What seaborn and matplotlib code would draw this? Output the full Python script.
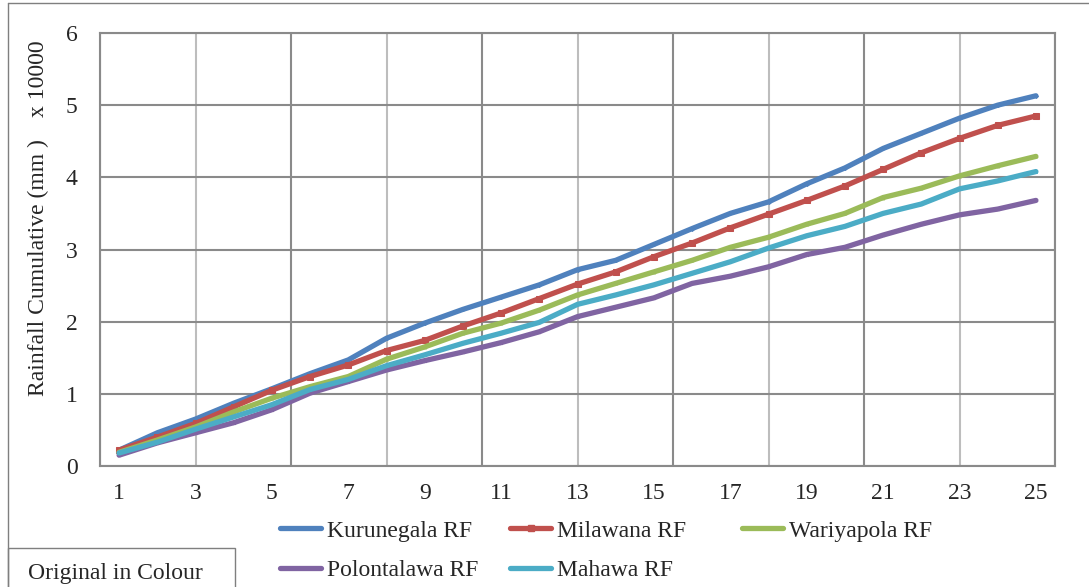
"""
Cumulative rainfall of five stations (Kurunegala area), Excel-style line chart
"""
import numpy as np
import pandas as pd
import matplotlib
matplotlib.use("Agg")
import matplotlib.pyplot as plt
import seaborn as sns
from matplotlib.lines import Line2D
from matplotlib.patches import Rectangle

# Data (cumulative rainfall, units of 10000 mm)
years = list(range(1, 26))
kurunegala = [0.22, 0.46, 0.65, 0.87, 1.07, 1.28, 1.47, 1.77, 1.98, 2.17, 2.34, 2.51, 2.72,
              2.85, 3.07, 3.29, 3.50, 3.66, 3.91, 4.13, 4.40, 4.61, 4.82, 5.00, 5.13]
milawana = [0.22, 0.40, 0.59, 0.82, 1.05, 1.24, 1.40, 1.60, 1.74, 1.94, 2.12, 2.32, 2.52,
            2.69, 2.90, 3.09, 3.30, 3.49, 3.68, 3.88, 4.11, 4.34, 4.54, 4.72, 4.85]
wariyapola = [0.19, 0.36, 0.54, 0.75, 0.94, 1.10, 1.24, 1.48, 1.65, 1.84, 1.98, 2.16, 2.37,
              2.53, 2.69, 2.85, 3.03, 3.17, 3.35, 3.50, 3.72, 3.85, 4.02, 4.16, 4.29]
polontalawa = [0.15, 0.32, 0.46, 0.60, 0.78, 1.01, 1.17, 1.33, 1.46, 1.58, 1.71, 1.86, 2.07,
               2.20, 2.33, 2.53, 2.63, 2.76, 2.93, 3.03, 3.20, 3.35, 3.48, 3.56, 3.68]
mahawa = [0.18, 0.33, 0.51, 0.68, 0.85, 1.06, 1.20, 1.39, 1.54, 1.70, 1.84, 1.99, 2.24,
          2.37, 2.51, 2.67, 2.83, 3.02, 3.19, 3.32, 3.50, 3.63, 3.84, 3.95, 4.08]

stations = ["Kurunegala RF", "Milawana RF", "Wariyapola RF", "Polontalawa RF", "Mahawa RF"]
series = [kurunegala, milawana, wariyapola, polontalawa, mahawa]
colors = ["#4F81BD", "#C0504D", "#9BBB59", "#8064A2", "#4BACC6"]
markers = ["D", "s", "^", "x", "*"]
msizes = [2, 4, 2, 2, 2]

df = pd.concat([pd.DataFrame({"year": years, "rain": s, "station": n})
                for n, s in zip(stations, series)], ignore_index=True)

sns.set_style("white")
plt.rcParams["font.family"] = ["Liberation Serif", "DejaVu Serif"]
plt.rcParams["font.size"] = 17

fig = plt.figure(figsize=(10.89, 5.87), dpi=100)
ax = fig.add_axes([100 / 1089, 1 - 466 / 587, 955 / 1089, 433 / 587])

GRID_DARK = "#8A8A8A"
GRID_LIGHT = "#BDBDBD"

handles = {}
for name, col, mk, ms in zip(stations, colors, markers, msizes):
    sub = df[df["station"] == name]
    sns.lineplot(data=sub, x="year", y="rain", color=col, lw=3.8, marker=mk,
                 markersize=ms, markeredgecolor=col, ax=ax, legend=False, zorder=3)
    handles[name] = Line2D([], [], color=col, lw=3.8, marker=mk, markersize=ms,
                           markeredgecolor=col)

# axes & grid
ax.set_xlim(0.5, 25.5)
ax.set_ylim(0, 6)
ax.set_xticks(years[::2])
ax.set_xticklabels([str(y) for y in years[::2]])
ax.set_xticks(np.arange(0.5, 25.6, 5), minor=True)
ax.set_yticks(range(0, 7))
ax.tick_params(axis="x", which="major", length=0, pad=12, labelsize=17)
ax.tick_params(axis="x", which="minor", length=7, width=1.5, color=GRID_DARK, direction="out")
ax.tick_params(axis="y", which="major", length=8, width=1.5, color=GRID_DARK, pad=8, labelsize=17)
ax.grid(axis="y", which="major", color=GRID_DARK, lw=1.5, zorder=0)
ax.grid(axis="x", which="minor", color=GRID_DARK, lw=1.5, zorder=0)
for xv in np.arange(3, 25, 5):
    ax.axvline(xv, color=GRID_LIGHT, lw=1.5, zorder=0)
for sp in ax.spines.values():
    sp.set_color(GRID_DARK)
    sp.set_linewidth(1.5)
ax.set_xlabel("")
ax.set_ylabel("")

fig.text(38 / 1089, 1 - 268 / 587, "Rainfall Cumulative (mm )", rotation=90,
         ha="center", va="center", fontsize=17)
fig.text(38 / 1089, 1 - 79 / 587, "x 10000", rotation=90,
         ha="center", va="center", fontsize=17)

# legend: three columns, row-wise like Excel
cols = [["Kurunegala RF", "Polontalawa RF"], ["Milawana RF", "Mahawa RF"], ["Wariyapola RF"]]
xs = [280 / 1089, 510 / 1089, 742 / 1089]
for xa, names in zip(xs, cols):
    fig.legend([handles[n] for n in names], names, loc="upper left",
               bbox_to_anchor=(xa, 1 - 520 / 587), frameon=False, borderpad=0,
               borderaxespad=0, handlelength=1.75, handletextpad=0.25,
               labelspacing=0.75, numpoints=1, fontsize=17)

# outer frame and note box
frame_col = "#7F7F7F"
fig.add_artist(Line2D([8 / 1089, 1], [1 - 3 / 587, 1 - 3 / 587], color=frame_col, lw=1,
                      transform=fig.transFigure))
fig.add_artist(Line2D([8 / 1089, 8 / 1089], [0, 1 - 3 / 587], color=frame_col, lw=1,
                      transform=fig.transFigure))
fig.add_artist(Rectangle((8 / 1089, -0.01), 227 / 1089, 0.01 + 39 / 587, fill=False,
                         edgecolor=frame_col, lw=1, transform=fig.transFigure))
fig.text(28 / 1089, 1 - 573 / 587, "Original in Colour", ha="left", va="center", fontsize=17)

fig.savefig("out.png", dpi=100)
